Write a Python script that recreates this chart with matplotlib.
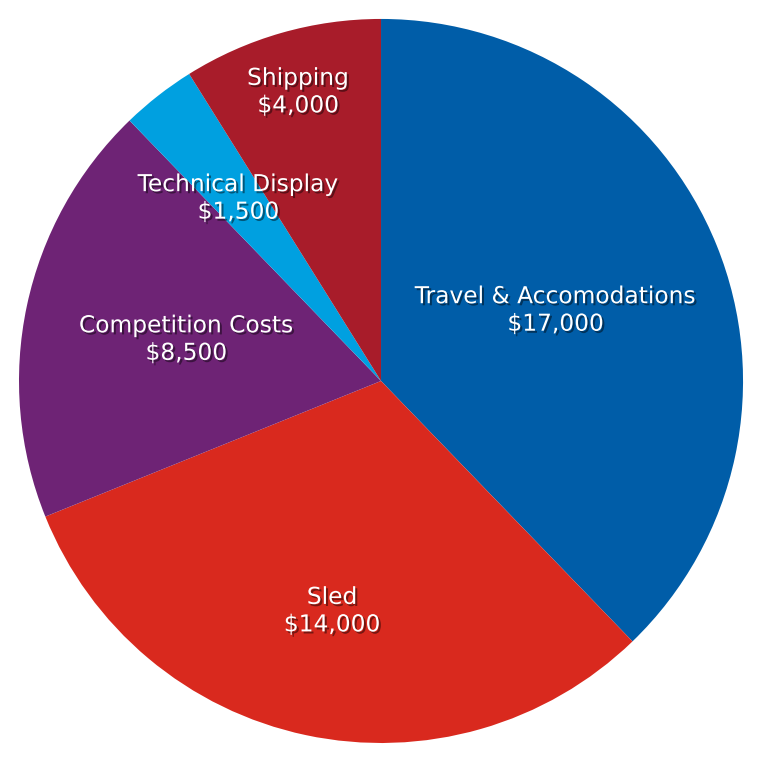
import matplotlib
matplotlib.use('Agg')
import matplotlib.pyplot as plt
import matplotlib.patheffects as pe
import numpy as np

categories = ['Travel & Accomodations', 'Sled', 'Competition Costs', 'Technical Display', 'Shipping']
values = [17000, 14000, 8500, 1500, 4000]

colors = ['#005DA8', '#D9291E', '#6E2375', '#00A0E0', '#A81C2A']
label_dist = [0.52, 0.65, 0.55, 0.64, 0.83]

fig = plt.figure(figsize=(7.59, 7.67), dpi=100)
ax = fig.add_axes([0.025, 0.0313, 0.954, 0.944])

wedges, _ = ax.pie(values, colors=colors, startangle=90, counterclock=False,
                   radius=1.0, wedgeprops=dict(linewidth=0))
ax.set_xlim(-1, 1)
ax.set_ylim(-1, 1)
ax.set_aspect('equal')
ax.axis('off')

shadow = [pe.SimplePatchShadow(offset=(1.5, -1.5), shadow_rgbFace='black', alpha=0.45),
          pe.Normal()]

for w, name, val, d in zip(wedges, categories, values, label_dist):
    ang = np.deg2rad((w.theta1 + w.theta2) / 2)
    x = d * np.cos(ang)
    y = d * np.sin(ang)
    ax.text(x, y, f"{name}\n${val:,}", ha='center', va='center', color='white',
            fontsize=16.8, family='DejaVu Sans', linespacing=1.25,
            path_effects=shadow)

fig.savefig('out.png', dpi=100)
